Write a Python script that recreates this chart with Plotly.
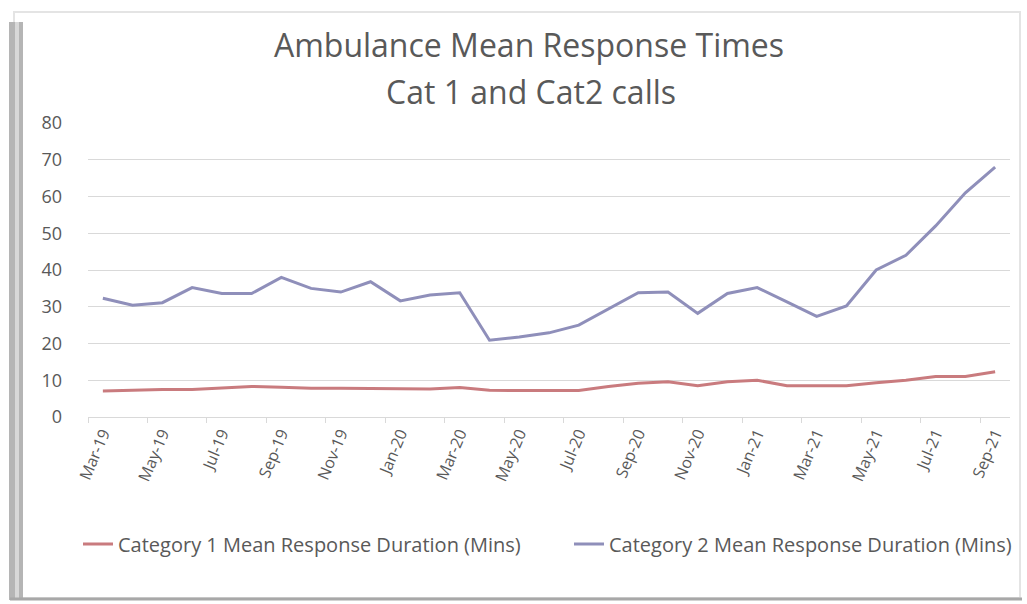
import plotly.graph_objects as go

months = ["Mar-19", "Apr-19", "May-19", "Jun-19", "Jul-19", "Aug-19", "Sep-19", "Oct-19",
          "Nov-19", "Dec-19", "Jan-20", "Feb-20", "Mar-20", "Apr-20", "May-20", "Jun-20",
          "Jul-20", "Aug-20", "Sep-20", "Oct-20", "Nov-20", "Dec-20", "Jan-21", "Feb-21",
          "Mar-21", "Apr-21", "May-21", "Jun-21", "Jul-21", "Aug-21", "Sep-21"]

cat1 = [7.1, 7.3, 7.5, 7.5, 8.0, 8.3, 8.1, 7.8, 7.8, 7.8, 7.8, 7.6, 8.0, 7.3, 7.2, 7.2,
        7.2, 8.3, 9.2, 9.6, 8.5, 9.6, 10.0, 8.5, 8.4, 8.5, 9.3, 10.0, 11.0, 11.0, 12.3]

cat2 = [32.3, 30.4, 31.1, 35.2, 33.6, 33.6, 38.0, 35.0, 34.0, 36.8, 31.6, 33.2, 33.8, 20.9,
        21.8, 22.9, 25.0, 29.5, 33.8, 34.0, 28.2, 33.6, 35.2, 31.3, 27.4, 30.2, 40.0, 44.0,
        52.0, 61.0, 68.0]

series_names = ["Category 1 Mean Response Duration (Mins)",
                "Category 2 Mean Response Duration (Mins)"]
title_line1 = "Ambulance Mean Response Times"
title_line2 = "Cat 1 and Cat2 calls"

W, H = 1027, 604
L, R, T, B = 88, 17, 123, 187
PW = W - L - R
PH = H - T - B


def px(x):
    return (x - L) / PW


def py(y):
    return (H - B - y) / PH


fig = go.Figure()
fig.add_trace(go.Scatter(x=months, y=cat1, mode="lines", name=series_names[0],
                         legend="legend",
                         line=dict(color="#c97b7e", width=3)))
fig.add_trace(go.Scatter(x=months, y=cat2, mode="lines", name=series_names[1],
                         legend="legend2",
                         line=dict(color="#8f8fba", width=3)))

shapes = [
    # outer frame
    dict(type="rect", xref="paper", yref="paper", x0=px(14), x1=px(1020), y0=py(598), y1=py(12),
         line=dict(color="#e4e4e4", width=2), fillcolor="rgba(0,0,0,0)", layer="below"),
    # left shadow bar
    dict(type="rect", xref="paper", yref="paper", x0=px(9), x1=px(23), y0=py(600), y1=py(22),
         line=dict(width=0), fillcolor="#b5b5b5", layer="below"),
    dict(type="rect", xref="paper", yref="paper", x0=px(15), x1=px(19), y0=py(600), y1=py(22),
         line=dict(width=0), fillcolor="#d8d8d8", layer="below"),
    # bottom border
    dict(type="line", xref="paper", yref="paper", x0=px(10), x1=px(1022), y0=py(599), y1=py(599),
         line=dict(color="#a8a8a8", width=3)),
]

title_font = dict(family="Open Sans", size=32, color="#595959")
legend_font = dict(family="Open Sans", size=20, color="#595959")

fig.update_layout(
    width=W, height=H,
    margin=dict(l=L, r=R, t=T, b=B, autoexpand=False),
    paper_bgcolor="white", plot_bgcolor="white",
    title=dict(text=title_line1, xref="container", yref="container",
               x=529 / W, xanchor="center", y=1 - 46 / H, yanchor="middle",
               font=title_font),
    annotations=[dict(text=title_line2, xref="paper", yref="paper", x=px(531), y=py(91),
                      xanchor="center", yanchor="middle", showarrow=False, font=title_font)],
    showlegend=True,
    legend=dict(orientation="h", x=px(78), xanchor="left", y=py(544), yanchor="middle",
                font=legend_font, bgcolor="rgba(0,0,0,0)"),
    legend2=dict(orientation="h", x=px(569), xanchor="left", y=py(544), yanchor="middle",
                 font=legend_font, bgcolor="rgba(0,0,0,0)"),
    xaxis=dict(type="category", tickmode="linear", tick0=0, dtick=2, tickson="boundaries",
               ticks="outside", ticklen=5, tickcolor="#d9d9d9", tickangle=-67,
               showgrid=False, showline=True, linecolor="#d9d9d9", linewidth=1,
               tickfont=dict(family="Open Sans", size=16, color="#595959"),
               range=[-0.5, len(months) - 0.5]),
    yaxis=dict(range=[0, 80], dtick=10, showgrid=True, gridcolor="#d9d9d9", gridwidth=1,
               zeroline=False, showline=False, ticks="", ticklabelstandoff=25,
               tickfont=dict(family="Open Sans", size=18, color="#595959")),
    shapes=shapes,
)

fig.write_html("out.html", config={"displayModeBar": False},
               post_script="document.body.style.margin='0px';")
